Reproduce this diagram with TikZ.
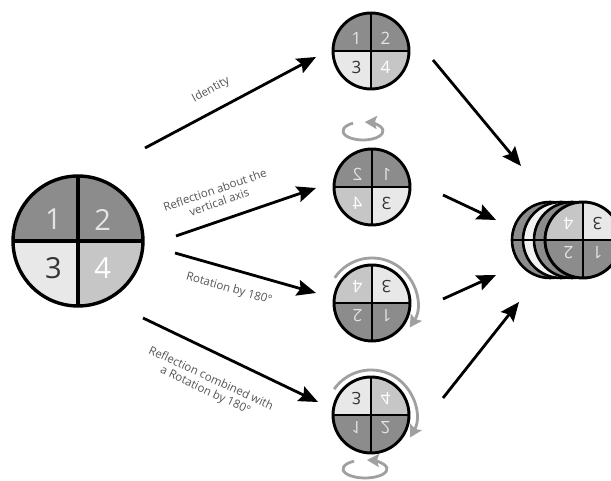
\documentclass[tikz,border=0pt]{standalone}
\usepackage{fontspec}
\setmainfont{Open Sans}
\newfontfamily\lblfont{Open Sans}
\usetikzlibrary{arrows.meta}
\definecolor{qdark}{HTML}{8C8C8C}
\definecolor{qmid}{HTML}{C6C6C6}
\definecolor{qlight}{HTML}{E8E8E8}
\definecolor{qwhite}{HTML}{F2F2F2}
\definecolor{txtdark}{HTML}{333333}
\definecolor{txtlight}{HTML}{E4E4E4}
\definecolor{lbltxt}{HTML}{555555}
\definecolor{rotgrey}{HTML}{A0A0A0}
\tikzset{
  bigarrow/.style={line width=2.8pt, -{Stealth[length=19pt,width=16pt,inset=3pt]}, black},
  rotarrow/.style={line width=2.8pt, rotgrey, -{Stealth[length=12pt,width=13pt,inset=2pt]}},
  lbl/.style={text=lbltxt, font=\lblfont\fontsize{11.5}{13}\selectfont, align=center, inner sep=0pt},
}
% #1 center, #2 radius, #3 transform, #4 font size, #5 line width, #6 name
\newcommand\quadc[6]{%
\begin{scope}[shift={#1},#3]
 \fill[qdark] (0,0) -- (#2,0) arc[start angle=0,end angle=180,radius=#2] -- cycle;
 \fill[qlight] (0,0) -- (-#2,0) arc[start angle=180,end angle=270,radius=#2] -- cycle;
 \fill[qmid] (0,0) -- (0,-#2) arc[start angle=270,end angle=360,radius=#2] -- cycle;
 \draw[line width=#5] (-#2,0) -- (#2,0) (0,-#2) -- (0,#2);
 \draw[line width=#5] (0,0) circle[radius=#2];
 \node[transform shape, text=txtlight, font=\fontsize{#4}{#4}\selectfont, inner sep=0pt] (#6a) at (-0.38*#2, 0.33*#2) {1};
 \node[transform shape, text=txtlight, font=\fontsize{#4}{#4}\selectfont, inner sep=0pt] (#6b) at (0.38*#2, 0.33*#2) {2};
 \node[transform shape, text=txtdark, font=\fontsize{#4}{#4}\selectfont, inner sep=0pt] (#6c) at (-0.38*#2, -0.42*#2) {3};
 \node[transform shape, text=white, font=\fontsize{#4}{#4}\selectfont, inner sep=0pt] (#6d) at (0.38*#2, -0.42*#2) {4};
\end{scope}}
\begin{document}
\begin{tikzpicture}[x=1pt,y=1pt]
\useasboundingbox (0,0) rectangle (611,481);
\clip (0,0) rectangle (611,481);
\fill[white] (0,0) rectangle (611,481);

% main circle
\quadc{(78,240)}{65}{}{29}{3.4pt}{m}
% result circles
\quadc{(371,430)}{38}{}{17}{2.9pt}{c1}
\quadc{(372,294)}{38}{xscale=-1}{17}{2.9pt}{c2}
\quadc{(372,178)}{38}{rotate=180}{17}{2.9pt}{c3}
\quadc{(371,66)}{38}{yscale=-1}{17}{2.9pt}{c4}

% stack
\draw[line width=2.6pt, fill=qdark] (550,241) circle[radius=38];
\draw[line width=2.6pt] (512,241) -- (588,241);
\draw[line width=2.6pt, fill=qwhite] (561,241) circle[radius=38];
\draw[line width=2.6pt] (523,241) -- (599,241);
\draw[line width=2.6pt, fill=qdark] (572,241) circle[radius=38];
\draw[line width=2.6pt] (534,241) -- (610,241);
\quadc{(583,241)}{38}{rotate=180}{17}{2.9pt}{s}

% arrow end points
\coordinate (a1s) at (145,333); \coordinate (a1e) at (316,424);
\coordinate (a2s) at (176,245); \coordinate (a2e) at (316,293);
\coordinate (a3s) at (175,228); \coordinate (a3e) at (316,188);
\coordinate (a4s) at (143,163); \coordinate (a4e) at (318,79);
\coordinate (b1s) at (433,421); \coordinate (b1e) at (521,315);
\coordinate (b2s) at (443,286); \coordinate (b2e) at (496,261);
\coordinate (b3s) at (443,182); \coordinate (b3e) at (496,206);
\coordinate (b4s) at (443,83);  \coordinate (b4e) at (519,179);

\draw[bigarrow] (a1s) -- (a1e);
\draw[bigarrow] (a2s) -- (a2e);
\draw[bigarrow] (a3s) -- (a3e);
\draw[bigarrow] (a4s) -- (a4e);
\draw[bigarrow] (b1s) -- (b1e);
\draw[bigarrow] (b2s) -- (b2e);
\draw[bigarrow] (b3s) -- (b3e);
\draw[bigarrow] (b4s) -- (b4e);

% labels
\node[lbl, rotate=28] (l1) at (211,391) {Identity};
\node[lbl, rotate=19] (l2) at (217,285) {Reflection about the\\vertical axis};
\node[lbl, rotate=-16] (l3) at (229,192) {Rotation by 180°};
\node[lbl, rotate=-25] (l4) at (208,96) {Reflection combined with\\a Rotation by 180°};

% rotation indicators
\coordinate (e2) at (363,350);
\draw[rotarrow] (e2) ++(120:20 and 9) arc[start angle=120, end angle=445, x radius=20, y radius=9];
\coordinate (e4) at (365,12);
\draw[rotarrow] (e4) ++(120:22 and 9) arc[start angle=120, end angle=445, x radius=22, y radius=9];
\coordinate (r3) at (372,178);
\draw[rotarrow] (r3) ++(146:45) arc[start angle=146, end angle=-33, radius=45];
\coordinate (r4) at (371,66);
\draw[rotarrow] (r4) ++(145:45) arc[start angle=145, end angle=-30, radius=45];
\end{tikzpicture}
\end{document}
